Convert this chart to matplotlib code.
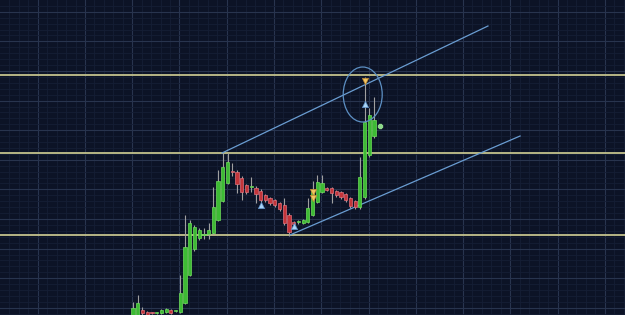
import numpy as np
import matplotlib
matplotlib.use("Agg")
import matplotlib.pyplot as plt
from matplotlib.patches import Ellipse
from matplotlib.ticker import FixedLocator

# candle OHLC values (price units)
opens = [-1, -1, 5, 3, 2.3, 2, 2, 3, 5, 4,
         3, 12, 40, 66, 77, 80, 81, 82, 95, 114,
         132, 143.5, 143, 137, 130, 128, 127, 124, 120, 117,
         115, 112, 110, 100, 93, 93, 92, 93, 100, 113,
         123, 127, 127, 124, 123, 121, 117, 114, 108, 118,
         160, 179]
highs = [13, 20, 8, 4, 3, 3, 6, 7, 6, 5,
         40, 100, 95, 90, 87, 87, 92, 128, 145, 162,
         162, 152, 145, 139, 131, 138, 129, 126, 121, 118,
         116, 113, 117, 102, 94, 95, 96, 117, 134, 140,
         140, 128, 128, 125, 124, 122, 118, 115, 158, 238,
         207, 218]
lows = [-3, -3, 0, -1, 1, 1, 1, 2, 1, 3,
        2, 11, 39, 64, 75, 76, 76, 81, 94, 113,
        131, 139, 122, 115, 121, 123, 112, 113, 113, 110,
        108, 104, 90, 79, 90, 91, 91, 92, 99, 112,
        122, 124, 112, 118, 116, 113, 107, 106, 106, 116,
        158, 177]
closes = [7, 12, 2, 0, 2, 2.3, 5, 6, 2, 4.3,
          22, 68, 92, 88, 85, 80.5, 85, 108, 134, 148,
          153, 143, 131, 123, 123, 128.5, 121, 115, 115, 112,
          110, 106, 92, 83, 91, 93.4, 95, 107, 125, 133,
          132, 125, 122, 120, 118, 115, 109, 108, 138, 193,
          200, 195]

# horizontal levels
levels = [240, 162, 80]

# trend channel endpoints (candle index, price)
upper_x = [18.84, 75.1]
upper_y = [162, 289]
lower_x = [33.2, 81.9]
lower_y = [80, 179]

# signal markers
buy_x = [27, 34, 49]
buy_y = [110, 89, 211]
sell_x = [38, 38, 49]
sell_y = [123, 117, 234]
mark_x = [52.3]
mark_y = [189]

bg = "#0c1326"
green = "#3dbb34"
red = "#c4353a"

fig = plt.figure(figsize=(6.25, 3.15), dpi=100)
fig.patch.set_facecolor(bg)
ax = fig.add_axes([0, 0, 1, 1])
ax.set_facecolor(bg)

x = np.arange(len(opens))
o = np.array(opens, dtype=float)
c = np.array(closes, dtype=float)
up = c >= o
colors = np.where(up, green, red)
edges = np.where(up, "#6fdc5c", "#e0707a")

ax.vlines(x, lows, highs, color="#a0a0a0", lw=0.8, zorder=3)
body_low = np.minimum(o, c)
body_h = np.maximum(np.abs(c - o), 0.8)
ax.bar(x, body_h, bottom=body_low, width=0.68, color=colors,
       edgecolor=edges, linewidth=0.5, zorder=4)

for lv in levels:
    ax.axhline(lv, color="#c4c38c", lw=1.3, zorder=2)

ax.plot(upper_x, upper_y, color="#6a9dd2", lw=0.9, zorder=2)
ax.plot(lower_x, lower_y, color="#6a9dd2", lw=0.9, zorder=2)

ax.add_patch(Ellipse((48.6, 220.5), 8.25, 55, fill=False,
                     edgecolor="#5d90c4", lw=0.9, zorder=5))

ax.scatter(buy_x, buy_y, marker="^", s=20, color="#a9d4f5",
           edgecolors="#5d8fc8", linewidths=0.5, zorder=6)
ax.scatter(sell_x, sell_y, marker="v", s=20, color="#f2c462",
           edgecolors="#c08a30", linewidths=0.5, zorder=6)
ax.scatter(mark_x, mark_y, marker="P", s=9, color="#8ed88a", zorder=6)

ax.set_xlim(-28.15, 104.1)
ax.set_ylim(0, 315)

ax.xaxis.set_major_locator(FixedLocator(np.arange(-20.17, 105, 10)))
ax.xaxis.set_minor_locator(FixedLocator(np.arange(-28.17, 105, 2)))
ax.yaxis.set_major_locator(FixedLocator(np.arange(7.2, 315, 29.6)))
ax.yaxis.set_minor_locator(FixedLocator(np.arange(1.28, 315, 5.92)))
ax.grid(which="major", color="#28344e", lw=0.8, zorder=0)
ax.grid(which="minor", color="#151e35", lw=0.6, zorder=0)
ax.set_axisbelow(True)
ax.tick_params(which="both", length=0, labelbottom=False, labelleft=False)
for s in ax.spines.values():
    s.set_visible(False)

fig.savefig("out.png", dpi=100, facecolor=bg)
